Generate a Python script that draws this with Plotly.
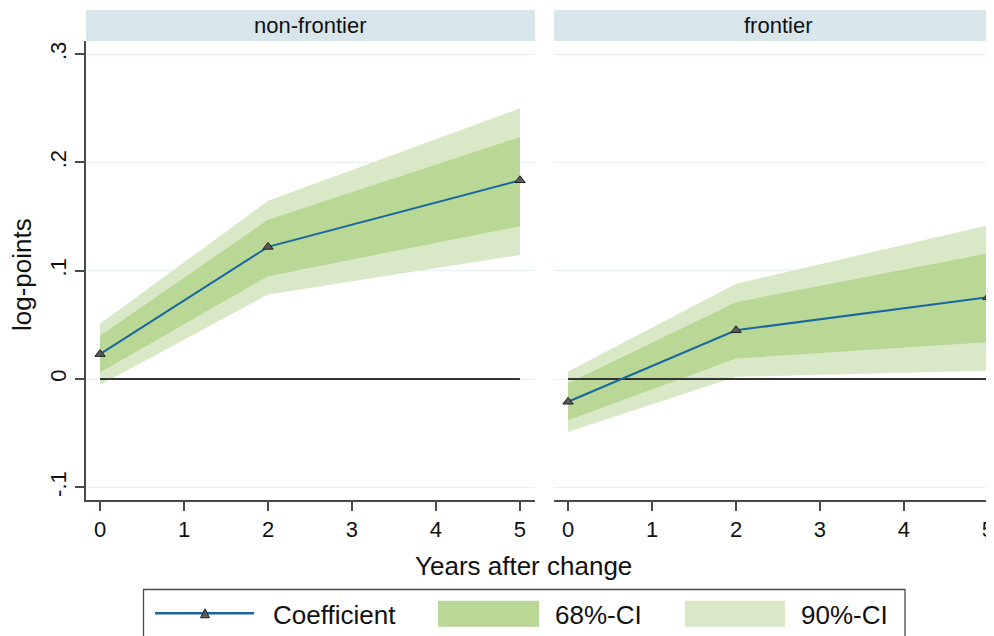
import plotly.graph_objects as go

# ---------------- data ----------------
years = [0, 2, 5]
panels = ["non-frontier", "frontier"]

nf_coef = [0.023, 0.122, 0.1835]
nf_lo68 = [0.006, 0.095, 0.141]
nf_hi68 = [0.040, 0.147, 0.2235]
nf_lo90 = [-0.0055, 0.078, 0.1145]
nf_hi90 = [0.051, 0.1645, 0.250]

f_coef = [-0.021, 0.045, 0.0755]
f_lo68 = [-0.038, 0.019, 0.034]
f_hi68 = [-0.004, 0.071, 0.116]
f_lo90 = [-0.049, 0.002, 0.0077]
f_hi90 = [0.007, 0.088, 0.142]

y_tickvals = [-0.1, 0, 0.1, 0.2, 0.3]
y_ticktext = ["-.1", "0", ".1", ".2", ".3"]
x_tickvals = [0, 1, 2, 3, 4, 5]

legend_labels = ["Coefficient", "68%-CI", "90%-CI"]

# ---------------- styles ----------------
C68 = "#b9d795"
C90 = "#d9e9c7"
CLINE = "#1a67a0"
AXC = "#4a4a4a"
TXT = "#111111"
GRID = "#e6eff2"
STRIP = "#d8e5eb"
FONT = "Liberation Sans, Arial, sans-serif"

# page is rendered with an 8px body margin; positions below are in page pixels
OFF = 8
W, H = 994, 636
ML, MR, MT, MB = 86 - OFF, 0, 41 - OFF, 636 - (500 - OFF)
PW = W - ML - MR
PH = H - MT - MB


def px2x(px):
    return (px - OFF - ML) / PW


def px2y(py):
    return (H - MB - (py - OFF)) / PH


fig = go.Figure()

series = [
    (nf_coef, nf_lo68, nf_hi68, nf_lo90, nf_hi90, "x", "y"),
    (f_coef, f_lo68, f_hi68, f_lo90, f_hi90, "x2", "y2"),
]

for coef, lo68, hi68, lo90, hi90, xa, ya in series:
    fig.add_trace(go.Scatter(
        x=years + years[::-1], y=hi90 + lo90[::-1], fill="toself",
        fillcolor=C90, line=dict(width=0), mode="lines",
        hoverinfo="skip", showlegend=False, xaxis=xa, yaxis=ya))
    fig.add_trace(go.Scatter(
        x=years + years[::-1], y=hi68 + lo68[::-1], fill="toself",
        fillcolor=C68, line=dict(width=0), mode="lines",
        hoverinfo="skip", showlegend=False, xaxis=xa, yaxis=ya))
    fig.add_trace(go.Scatter(
        x=[years[0], years[-1]], y=[0, 0], mode="lines",
        line=dict(color="#333333", width=2.2),
        hoverinfo="skip", showlegend=False, xaxis=xa, yaxis=ya))
    fig.add_trace(go.Scatter(
        x=years, y=coef, mode="lines+markers",
        line=dict(color=CLINE, width=2),
        marker=dict(symbol="triangle-up", size=9, color="#5a5a5a",
                    line=dict(color="#222222", width=1)),
        showlegend=False, xaxis=xa, yaxis=ya))

yrange = [-0.1117, 0.3121]
common_y = dict(range=yrange, tickvals=y_tickvals, showgrid=True,
                gridcolor=GRID, gridwidth=1, zeroline=False, fixedrange=True)
common_x = dict(tickvals=x_tickvals, showgrid=False, zeroline=False,
                showline=True, linecolor=AXC, linewidth=1.5,
                ticks="outside", ticklen=9, tickwidth=1.5, tickcolor=AXC,
                tickfont=dict(size=22, color=TXT, family=FONT))

fig.update_layout(
    width=W, height=H,
    margin=dict(l=ML, r=MR, t=MT, b=MB, pad=0),
    paper_bgcolor="white", plot_bgcolor="white",
    font=dict(family=FONT, color=TXT),
    showlegend=False,
    xaxis=dict(domain=[0, px2x(535)], range=[-0.167, 5.179], anchor="y",
               **common_x),
    xaxis2=dict(domain=[px2x(554), 1], range=[-0.167, 5.167], anchor="y2",
                **common_x),
    yaxis=dict(anchor="x", ticktext=y_ticktext, tickangle=-90,
               showline=True, linecolor=AXC, linewidth=1.5,
               ticks="outside", ticklen=9, tickwidth=1.5, tickcolor=AXC,
               tickfont=dict(size=22, color=TXT, family=FONT),
               **common_y),
    yaxis2=dict(anchor="x2", showticklabels=False, showline=False, ticks="",
                **common_y),
)

shapes = []
annotations = []

strip_ranges = [(86, 535), (554, 1002)]
for (a, b), name in zip(strip_ranges, panels):
    shapes.append(dict(type="rect", xref="paper", yref="paper",
                       x0=px2x(a), x1=px2x(b), y0=1.0, y1=px2y(10),
                       fillcolor=STRIP, line=dict(width=0), layer="below"))
    annotations.append(dict(xref="paper", yref="paper",
                            x=px2x((a + b) / 2), y=px2y(25.5),
                            text=name, showarrow=False,
                            xanchor="center", yanchor="middle",
                            font=dict(size=22, color=TXT, family=FONT)))

annotations.append(dict(xref="paper", yref="paper", x=px2x(523), y=px2y(566),
                        text="Years after change", showarrow=False,
                        xanchor="center", yanchor="middle",
                        font=dict(size=26, color=TXT, family=FONT)))
annotations.append(dict(xref="paper", yref="paper", x=px2x(22), y=px2y(275),
                        text="log-points", showarrow=False, textangle=-90,
                        xanchor="center", yanchor="middle",
                        font=dict(size=26, color=TXT, family=FONT)))

# legend
shapes.append(dict(type="rect", xref="paper", yref="paper",
                   x0=px2x(143.5), x1=px2x(905), y0=px2y(660), y1=px2y(589.5),
                   fillcolor="white", line=dict(color=AXC, width=1.3)))
ly = 613.3
shapes.append(dict(type="line", xref="paper", yref="paper",
                   x0=px2x(155), x1=px2x(254), y0=px2y(ly), y1=px2y(ly),
                   line=dict(color=CLINE, width=2.5)))
tri = "M {:.5f} {:.5f} L {:.5f} {:.5f} L {:.5f} {:.5f} Z".format(
    px2x(200.5), px2y(ly + 4.5), px2x(209.5), px2y(ly + 4.5),
    px2x(205), px2y(ly - 4.5))
shapes.append(dict(type="path", xref="paper", yref="paper", path=tri,
                   fillcolor="#5a5a5a", line=dict(color="#222222", width=1)))
shapes.append(dict(type="rect", xref="paper", yref="paper",
                   x0=px2x(438), x1=px2x(539), y0=px2y(626.7), y1=px2y(600.7),
                   fillcolor=C68, line=dict(width=0)))
shapes.append(dict(type="rect", xref="paper", yref="paper",
                   x0=px2x(685), x1=px2x(785), y0=px2y(626.7), y1=px2y(600.7),
                   fillcolor=C90, line=dict(width=0)))
for label, lx in zip(legend_labels, [271, 553, 799]):
    annotations.append(dict(xref="paper", yref="paper", x=px2x(lx),
                            y=px2y(614.5), text=label, showarrow=False,
                            xanchor="left", yanchor="middle",
                            font=dict(size=26, color=TXT, family=FONT)))

fig.update_layout(shapes=shapes, annotations=annotations)

fig.write_html("out.html")
